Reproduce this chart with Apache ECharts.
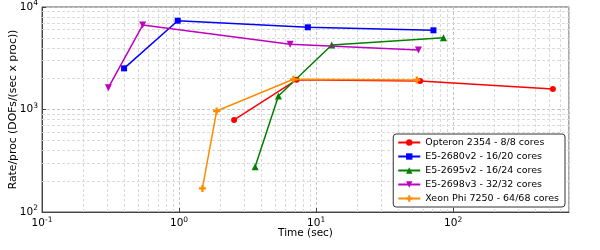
<!DOCTYPE html>
<html>
<head>
<meta charset="utf-8">
<script src="https://cdn.jsdelivr.net/npm/echarts@6/dist/echarts.min.js"></script>
<style>html,body{margin:0;padding:0;background:#fff}#c{width:600px;height:250px}</style>
</head>
<body>
<div id="c"></div>
<script>
// ---- data ----
var seriesNames = [
  'Opteron 2354 - 8/8 cores',
  'E5-2680v2 - 16/20 cores',
  'E5-2695v2 - 16/24 cores',
  'E5-2698v3 - 32/32 cores',
  'Xeon Phi 7250 - 64/68 cores'
];
var timeOpteron = [2.52, 7.2, 57.4, 534];
var rateOpteron = [790, 1950, 1900, 1585];
var timeE52680 = [0.397, 0.978, 8.7, 71.8];
var rateE52680 = [2520, 7350, 6340, 5925];
var timeE52695 = [3.59, 5.31, 13.0, 85];
var rateE52695 = [277, 1355, 4260, 5020];
var timeE52698 = [0.305, 0.543, 6.46, 55.8];
var rateE52698 = [1633, 6670, 4325, 3802];
var timePhi = [1.48, 1.88, 6.83, 54.3];
var ratePhi = [170, 967, 1971, 1940];

var xMin = 0.1, xMax = 700;
var yMin = 100, yMax = 10000;
var xDecades = [0.1, 1, 10, 100];
var yDecades = [100, 1000];
var minorMultipliers = [2, 3, 4, 5, 6, 7, 8, 9];

// ---- helpers ----
function zip(xs, ys) { return xs.map(function (x, i) { return [x, ys[i]]; }); }
function minorValues(decades, maxV) {
  var out = [];
  decades.forEach(function (d) {
    minorMultipliers.forEach(function (m) {
      var v = d * m;
      if (v < maxV * 1.0001) out.push(+v.toPrecision(6));
    });
  });
  return out;
}
function isPow10(v) {
  var e = Math.log10(v);
  return Math.abs(e - Math.round(e)) < 1e-6;
}
function powLabel(v) {
  if (!isPow10(v)) return '';
  var e = Math.round(Math.log10(v));
  return '{b|10}{s|' + e + '}';
}
var richTick = {
  b: { fontSize: 10.5, fontFamily: 'DejaVu Sans', color: '#000' },
  s: { fontSize: 7.5, fontFamily: 'DejaVu Sans', color: '#000', padding: [0, 0, 7, 0] }
};

var colors = ['#ff0000', '#0000ff', '#008000', '#bf00bf', '#ff8c00'];
var symbols = ['circle', 'rect', 'triangle', 'triangle', 'path://M1,0H2V1H3V2H2V3H1V2H0V1H1Z'];
var symSizes = [6, 6, 7, 7, 7];
var symRot = [0, 0, 0, 180, 0];
var datasets = [
  zip(timeOpteron, rateOpteron),
  zip(timeE52680, rateE52680),
  zip(timeE52695, rateE52695),
  zip(timeE52698, rateE52698),
  zip(timePhi, ratePhi)
];

var gridColorMajor = '#c4c4c4';
var gridColorMinor = '#dadada';
var minorX = minorValues(xDecades, xMax);
var minorY = minorValues(yDecades, yMax);
var minorLines = minorX.map(function (v) { return { xAxis: v }; })
  .concat(minorY.map(function (v) { return { yAxis: v }; }));

var series = [{
  name: '__grid',
  type: 'line',
  data: [],
  z: 1,
  silent: true,
  markLine: {
    silent: true,
    z: 1,
    symbol: 'none',
    animation: false,
    label: { show: false },
    lineStyle: { color: gridColorMinor, type: [3, 2], width: 1 },
    data: minorLines
  }
}];
datasets.forEach(function (d, i) {
  series.push({
    name: seriesNames[i],
    type: 'line',
    data: d,
    z: 3 + i,
    color: colors[i],
    symbol: symbols[i],
    symbolSize: symSizes[i],
    symbolRotate: symRot[i],
    showAllSymbol: true,
    lineStyle: { width: 1.5 },
    itemStyle: { color: colors[i] },
    animation: false
  });
});

var chart = echarts.init(document.getElementById('c'), null, { renderer: 'canvas' });
chart.setOption({
  animation: false,
  backgroundColor: '#fff',
  textStyle: { fontFamily: 'DejaVu Sans' },
  grid: {
    left: 42, right: 31, top: 7, bottom: 38,
    containLabel: false, outerBoundsMode: 'none',
    show: true, borderColor: '#555', borderWidth: 1, backgroundColor: 'transparent'
  },
  legend: {
    data: seriesNames,
    orient: 'vertical',
    right: 35, bottom: 43,
    padding: [3, 6, 3, 4],
    itemWidth: 22, itemHeight: 8, itemGap: 3,
    borderColor: '#333', borderWidth: 1, borderRadius: 3,
    backgroundColor: '#fff',
    textStyle: { fontSize: 9.5, fontFamily: 'DejaVu Sans', color: '#000', lineHeight: 11 },
    z: 20
  },
  xAxis: {
    type: 'log', logBase: 10, min: xMin, max: xMax,
    name: 'Time (sec)', nameLocation: 'middle', nameGap: 16, nameMoveOverlap: false,
    nameTextStyle: { fontSize: 10.5, fontFamily: 'DejaVu Sans', color: '#000' },
    axisLine: { show: true, lineStyle: { color: '#444' } },
    axisTick: { show: true, inside: true, length: 4, lineStyle: { color: '#444' } },
    axisLabel: { formatter: powLabel, rich: richTick, margin: 4, showMaxLabel: false },
    splitLine: { show: true, lineStyle: { color: gridColorMajor, type: [3, 2] } }
  },
  yAxis: {
    type: 'log', logBase: 10, min: yMin, max: yMax,
    name: 'Rate/proc (DOFs/(sec x proc))', nameLocation: 'middle', nameGap: 23, nameMoveOverlap: false,
    nameTextStyle: { fontSize: 10.8, fontFamily: 'DejaVu Sans', color: '#000' },
    axisLine: { show: true, lineStyle: { color: '#444' } },
    axisTick: { show: true, inside: true, length: 4, lineStyle: { color: '#444' } },
    axisLabel: { formatter: powLabel, rich: richTick, margin: 4 },
    splitLine: { show: true, lineStyle: { color: gridColorMajor, type: [3, 2] } }
  },
  series: series
});
</script>
</body>
</html>
